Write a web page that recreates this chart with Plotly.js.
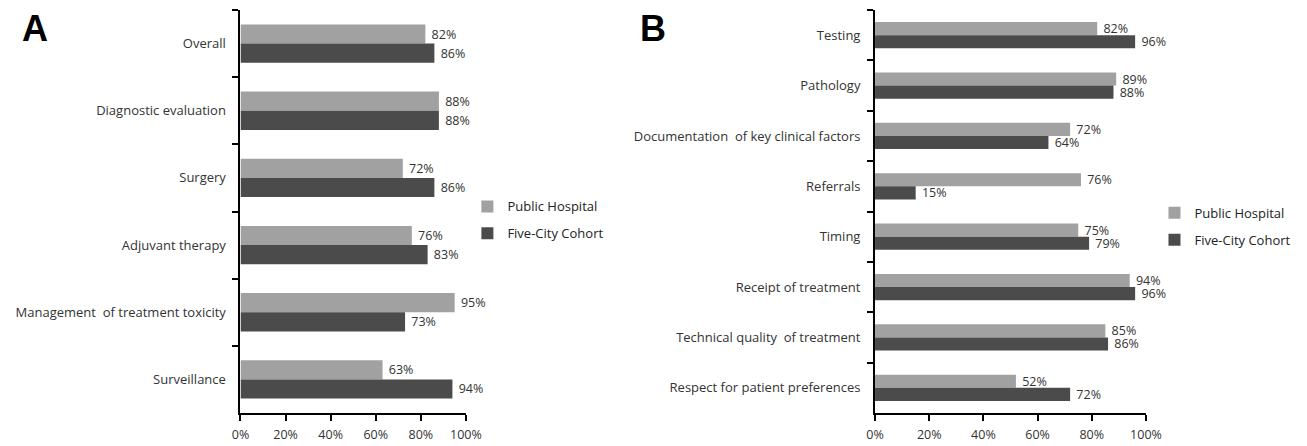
<!DOCTYPE html>
<html>
<head>
<meta charset="utf-8">
<script src="https://cdn.plot.ly/plotly-3.0.1.min.js"></script>
<style>html,body{margin:0;padding:0;background:#fff;}#chart{width:1307px;height:446px;}</style>
</head>
<body>
<div id="chart"></div>
<script>
// Panel A data
const catsA = ["Overall", "Diagnostic evaluation", "Surgery", "Adjuvant therapy", "Management  of treatment toxicity", "Surveillance"];
const publicA = [82, 88, 72, 76, 95, 63];
const cohortA = [86, 88, 86, 83, 73, 94];

// Panel B data
const catsB = ["Testing", "Pathology", "Documentation  of key clinical factors", "Referrals", "Timing", "Receipt of treatment", "Technical quality  of treatment", "Respect for patient preferences"];
const publicB = [82, 89, 72, 76, 75, 94, 85, 52];
const cohortB = [96, 88, 64, 15, 79, 96, 86, 72];

const seriesNames = ["Public Hospital", "Five-City Cohort"];
const xTicks = [0, 20, 40, 60, 80, 100];

const grayC = "#a1a1a1", darkC = "#4b4b4b";
const font = "Open Sans, Liberation Sans, sans-serif";
const txtFont = {family: font, size: 12.5, color: "#333"};

function barTrace(name, cats, vals, color, xa, ya, offset, width, legend, group) {
  return {
    type: "bar", orientation: "h", name: name, y: cats, x: vals,
    xaxis: xa, yaxis: ya, marker: {color: color, line: {width: 0}},
    offset: offset, width: width,
    text: vals.map(v => "\u00a0" + v + "%"), textposition: "outside", constraintext: "none",
    textfont: txtFont, cliponaxis: false, hoverinfo: "skip",
    legend: legend, legendgroup: group
  };
}

const wA = 0.285, wB = 0.26;
const data = [
  barTrace(seriesNames[0], catsA, publicA, grayC, "x", "y", -wA, wA, "legend", "a1"),
  barTrace(seriesNames[1], catsA, cohortA, darkC, "x", "y", 0, wA, "legend", "a2"),
  barTrace(seriesNames[0], catsB, publicB, grayC, "x2", "y2", -wB, wB, "legend2", "b1"),
  barTrace(seriesNames[1], catsB, cohortB, darkC, "x2", "y2", 0, wB, "legend2", "b2")
];

const xBase = {
  range: [0, 100], tickvals: xTicks, ticktext: xTicks.map(v => v + "%"),
  ticks: "outside", ticklen: 6, tickwidth: 2, tickcolor: "#000",
  showline: true, linewidth: 2, linecolor: "#000", showgrid: false, zeroline: false,
  tickfont: {family: font, size: 12.5, color: "#333"}, ticklabelstandoff: 3, fixedrange: true
};
const yBase = {
  type: "category", autorange: "reversed", tickson: "boundaries",
  ticks: "outside", ticklen: 6, tickwidth: 2, tickcolor: "#000",
  showline: true, linewidth: 2, linecolor: "#000", showgrid: false, zeroline: false,
  tickfont: {family: font, size: 13, color: "#333"}, ticklabelstandoff: 10, fixedrange: true
};

const legBase = {
  font: {family: font, size: 13, color: "#222"}, bgcolor: "rgba(0,0,0,0)",
  traceorder: "grouped", tracegroupgap: 7, xanchor: "left", yanchor: "middle",
  xref: "paper", yref: "paper"
};

const layout = {
  width: 1307, height: 446,
  margin: {l: 0, r: 0, t: 10, b: 33},
  paper_bgcolor: "#fff", plot_bgcolor: "#fff",
  barmode: "overlay",
  showlegend: true,
  xaxis: Object.assign({}, xBase, {domain: [0.184, 0.3565], anchor: "y"}),
  yaxis: Object.assign({}, yBase, {domain: [0, 1], anchor: "x"}),
  xaxis2: Object.assign({}, xBase, {domain: [0.6695, 0.8768], anchor: "y2"}),
  yaxis2: Object.assign({}, yBase, {domain: [0, 1], anchor: "x2"}),
  legend: Object.assign({}, legBase, {x: 0.3576, y: 0.479}),
  legend2: Object.assign({}, legBase, {x: 0.8833, y: 0.463}),
  annotations: [
    {text: "<b>A</b>", xref: "paper", yref: "paper", x: 0.0268, y: 0.955, xanchor: "center", yanchor: "middle", showarrow: false, font: {family: "Liberation Sans, Arial, sans-serif", size: 36, color: "#000"}},
    {text: "<b>B</b>", xref: "paper", yref: "paper", x: 0.4999, y: 0.955, xanchor: "center", yanchor: "middle", showarrow: false, font: {family: "Liberation Sans, Arial, sans-serif", size: 36, color: "#000"}}
  ]
};

Plotly.newPlot("chart", data, layout, {displayModeBar: false, staticPlot: true});
</script>
</body>
</html>
